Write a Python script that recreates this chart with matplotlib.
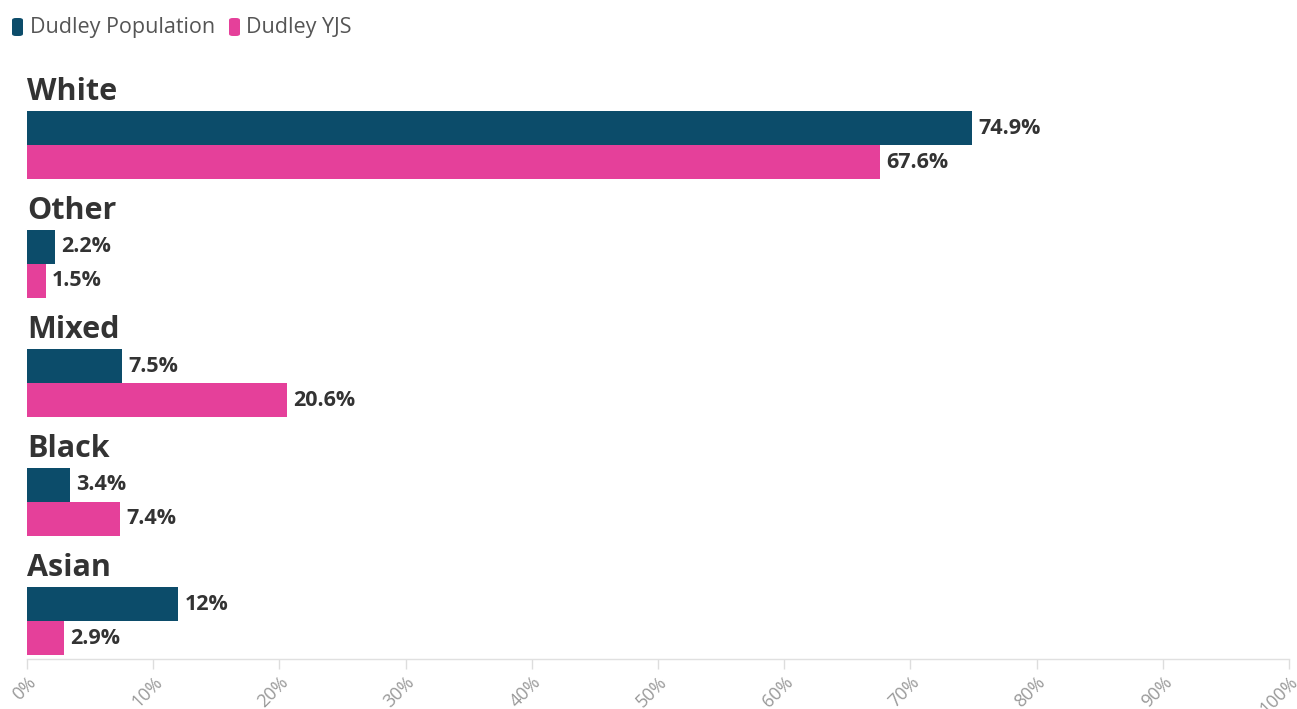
import matplotlib
matplotlib.use("Agg")
import matplotlib.pyplot as plt
from matplotlib.patches import FancyBboxPatch
import numpy as np

categories = ["White", "Other", "Mixed", "Black", "Asian"]
population = [74.9, 2.2, 7.5, 3.4, 12.0]
yjs = [67.6, 1.5, 20.6, 7.4, 2.9]
pop_labels = ["74.9%", "2.2%", "7.5%", "3.4%", "12%"]
yjs_labels = ["67.6%", "1.5%", "20.6%", "7.4%", "2.9%"]
series_names = ["Dudley Population", "Dudley YJS"]
ticks = [0, 10, 20, 30, 40, 50, 60, 70, 80, 90, 100]
tick_labels = ["0%", "10%", "20%", "30%", "40%", "50%", "60%", "70%", "80%", "90%", "100%"]

BLUE = "#0c4c6a"
PINK = "#e5409a"
FONT = "Open Sans"

W, H = 1297, 709
fig = plt.figure(figsize=(W / 100, H / 100), dpi=100)
ax = fig.add_axes([27 / W, 1 - 659 / H, (1289 - 27) / W, (659 - 60) / H])

idx = np.arange(len(categories))
bh = 34 / 119
ax.barh(idx - bh / 2, population, height=bh, color=BLUE, edgecolor="none")
ax.barh(idx + bh / 2, yjs, height=bh, color=PINK, edgecolor="none")

for i in idx:
    ax.text(population[i] + 0.5, i - bh / 2, pop_labels[i], va="center", ha="left",
            fontsize=15.5, fontweight="bold", color="#333333", family=FONT)
    ax.text(yjs[i] + 0.5, i + bh / 2, yjs_labels[i], va="center", ha="left",
            fontsize=15.5, fontweight="bold", color="#333333", family=FONT)
    ax.text(0.0, i - 53 / 119, categories[i], va="center", ha="left",
            fontsize=22, fontweight="bold", color="#333333", family=FONT)

ax.set_xlim(0, 100)
ax.set_ylim(4 + 38 / 119, -85 / 119)
ax.set_yticks([])
ax.set_xticks(ticks)
ax.set_xticklabels(tick_labels, rotation=45, ha="right", va="top",
                   rotation_mode="anchor", fontsize=13, family=FONT, color="#999999")
ax.tick_params(axis="x", length=7, width=1, color="#dddddd", pad=3)
for s in ["top", "right", "left"]:
    ax.spines[s].set_visible(False)
ax.spines["bottom"].set_color("#e0e0e0")
ax.spines["bottom"].set_linewidth(1)

# legend
def swatch(x, color):
    p = FancyBboxPatch((x / W, 1 - 36 / H), 11 / W, 18 / H,
                       boxstyle="round,pad=0,rounding_size=0.003",
                       transform=fig.transFigure, facecolor=color, edgecolor="none")
    fig.patches.append(p)

swatch(12, BLUE)
fig.text(30 / W, 1 - 27 / H, series_names[0], va="center", ha="left",
         fontsize=15.5, color="#555555", family=FONT)
swatch(229, PINK)
fig.text(246 / W, 1 - 27 / H, series_names[1], va="center", ha="left",
         fontsize=15.5, color="#555555", family=FONT)

fig.savefig("out.png", dpi=100)
